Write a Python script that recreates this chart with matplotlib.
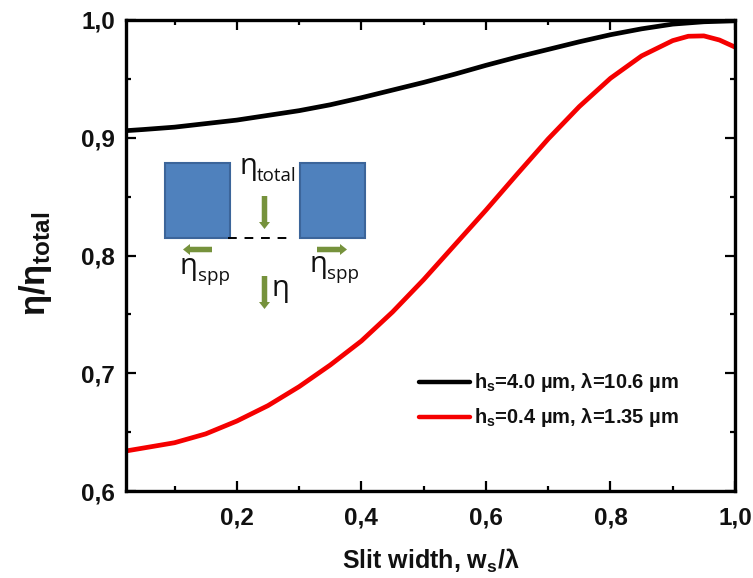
import matplotlib
matplotlib.use('Agg')
import matplotlib.pyplot as plt
from matplotlib.patches import Rectangle, FancyArrow
from matplotlib.lines import Line2D

W, H = 753, 578
plt.rcParams['font.family'] = ['Liberation Sans', 'DejaVu Sans']
plt.rcParams['mathtext.default'] = 'regular'

black_x = [0.022, 0.05, 0.1, 0.15, 0.2, 0.25, 0.3, 0.35, 0.4, 0.45, 0.5, 0.55, 0.6, 0.65, 0.7, 0.75, 0.8, 0.85, 0.9, 0.95, 1.0]
black_y = [0.906, 0.907, 0.909, 0.912, 0.915, 0.919, 0.923, 0.928, 0.934, 0.9405, 0.947, 0.954, 0.9615, 0.9685, 0.975, 0.9815, 0.9875, 0.9925, 0.9965, 0.9985, 0.9993]
red_x = [0.022, 0.05, 0.1, 0.15, 0.2, 0.25, 0.3, 0.35, 0.4, 0.45, 0.5, 0.55, 0.6, 0.65, 0.7, 0.75, 0.8, 0.85, 0.9, 0.925, 0.95, 0.975, 1.0]
red_y = [0.634, 0.6365, 0.641, 0.6485, 0.6594, 0.6725, 0.6886, 0.707, 0.7274, 0.752, 0.7795, 0.809, 0.8385, 0.869, 0.899, 0.9265, 0.9505, 0.9695, 0.9825, 0.9862, 0.9865, 0.983, 0.977]
black_label = 'h$_s$=4.0 µm, λ=10.6 µm'
red_label = 'h$_s$=0.4 µm, λ=1.35 µm'
xlabel = 'Slit width, w$_s$/λ'
ylabel = 'η/η$_{total}$'
x_ticks = [0.2, 0.4, 0.6, 0.8, 1.0]
x_tick_labels = ['0,2', '0,4', '0,6', '0,8', '1,0']
y_ticks = [0.6, 0.7, 0.8, 0.9, 1.0]
y_tick_labels = ['0,6', '0,7', '0,8', '0,9', '1,0']

fig = plt.figure(figsize=(W / 100, H / 100), dpi=100)
L, R, T, B = 126, 735, 20, 491
ax = fig.add_axes([L / W, 1 - B / H, (R - L) / W, (B - T) / H])
ax.plot(black_x, black_y, color='black', lw=3.4, solid_capstyle='round', solid_joinstyle='round')
ax.plot(red_x, red_y, color='#f50000', lw=3.4, solid_capstyle='round', solid_joinstyle='round')
ax.set_xlim(0.022, 1.0)
ax.set_ylim(0.6, 1.0)
ax.set_xticks(x_ticks, x_tick_labels, fontsize=17.5, fontweight='bold', color='#111111')
ax.set_yticks(y_ticks, y_tick_labels, fontsize=17.5, fontweight='bold', color='#111111')
ax.set_xticks([0.1, 0.3, 0.5, 0.7, 0.9], minor=True)
ax.set_yticks([0.65, 0.75, 0.85, 0.95], minor=True)
ax.tick_params(which='major', direction='in', length=7, width=1.6, top=True, right=True)
ax.tick_params(which='minor', direction='in', length=3.5, width=1.6, top=True, right=True)
ax.tick_params(axis='x', which='major', pad=11)
ax.tick_params(axis='y', which='major', pad=8)
for s in ax.spines.values():
    s.set_linewidth(2.4)

def fx(px):
    return px / W
def fy(py):
    return 1 - py / H

fig.text(fx(431), fy(569), xlabel, fontsize=18, fontweight='bold', ha='center', va='baseline', color='#111111')
fig.text(fx(35), fy(264), ylabel, fontsize=25, fontweight='bold', rotation=90, ha='center', va='center', color='#111111')

# legend
for py, col, label in [(382, 'black', black_label), (417, '#f50000', red_label)]:
    fig.add_artist(Line2D([fx(419), fx(470)], [fy(py), fy(py)], color=col, lw=3.2, solid_capstyle='round'))
    fig.text(fx(474), fy(py + 6), label, fontsize=14.5, fontweight='bold', ha='left', va='baseline', color='#111111')

# inset schematic
for x0 in (165, 300):
    fig.add_artist(Rectangle((fx(x0), fy(238)), 65 / W, 75 / H, transform=fig.transFigure,
                             facecolor='#4f81bd', edgecolor='#3c659a', lw=1.5))
fig.add_artist(Line2D([fx(228), fx(293)], [fy(237.5), fy(237.5)], color='black', lw=1.4, ls=(0, (4.5, 4))))
green = '#76923c'
def arrow(x0, y0, x1, y1):
    fig.add_artist(FancyArrow(x0, H - y0, x1 - x0, y0 - y1, width=5.5, head_width=11, head_length=7,
                              length_includes_head=True, color=green, lw=0, transform=None))
arrow(264.5, 196, 264.5, 229)
arrow(212, 249.5, 183, 249.5)
arrow(317, 249.5, 347, 249.5)
arrow(264.5, 276, 264.5, 309)
ink = '#111111'
def eta(px, py, sub):
    fig.text(fx(px), fy(py), 'η', family='Open Sans', fontsize=21, ha='left', va='baseline', color=ink)
    if sub:
        fig.text(fx(px + 18), fy(py + 7), sub, family='Open Sans', fontsize=13.5, ha='left', va='baseline', color=ink)
eta(239, 174, 'total')
eta(180, 274, 'spp')
eta(309, 272, 'spp')
eta(271, 296, '')

fig.savefig('out.png', dpi=100)
